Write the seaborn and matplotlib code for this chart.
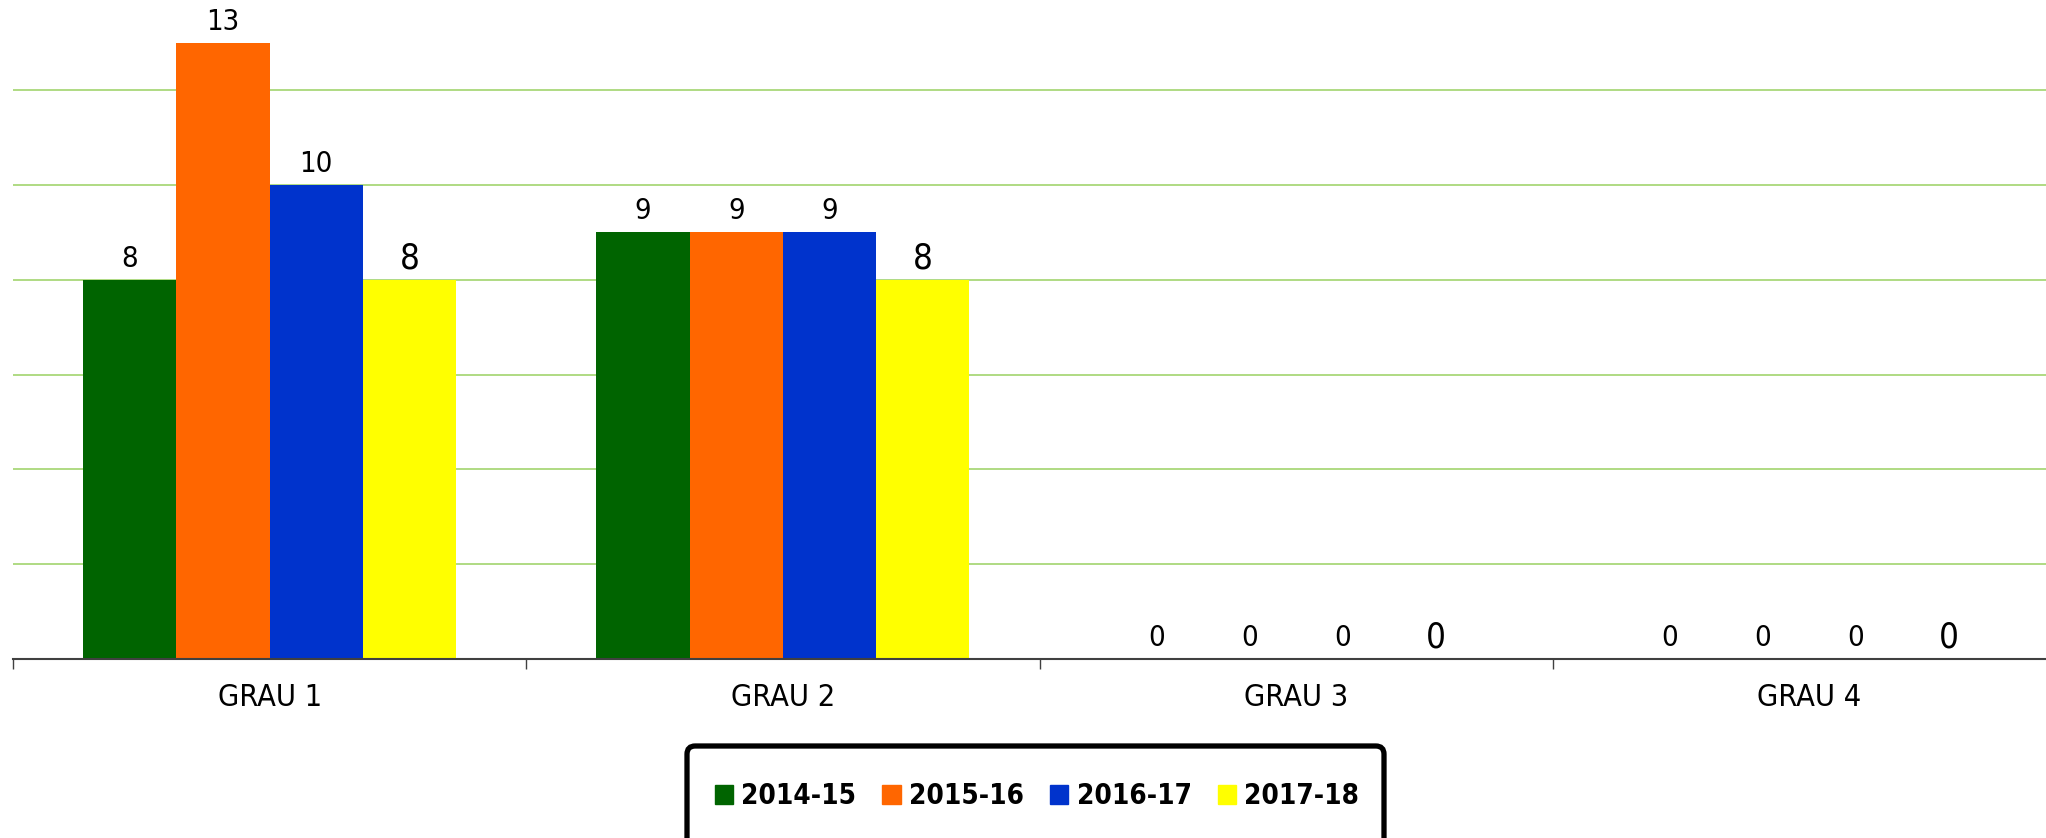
import matplotlib
matplotlib.use("Agg")
import matplotlib.pyplot as plt
from matplotlib import font_manager
from matplotlib.font_manager import FontProperties
from matplotlib.patches import FancyBboxPatch
import seaborn as sns
import pandas as pd

categories = ["GRAU 1", "GRAU 2", "GRAU 3", "GRAU 4"]
series = ["2014-15", "2015-16", "2016-17", "2017-18"]
v_2014_15 = [8, 9, 0, 0]
v_2015_16 = [13, 9, 0, 0]
v_2016_17 = [10, 9, 0, 0]
v_2017_18 = [8, 8, 0, 0]
colors = ["#006400", "#FF6600", "#0033CC", "#FFFF00"]

sns.set_theme(style="white")
plt.rcParams["font.family"] = ["DejaVu Sans"]
plt.rcParams["text.color"] = "black"


def find_font(bold):
    cands = []
    for f in font_manager.fontManager.ttflist:
        n = f.name.lower()
        fn = f.fname.lower()
        narrow = ("condensed" in n or "narrow" in n or "condensed" in fn
                  or "narrow" in fn or f.stretch in ("condensed", "semi-condensed",
                                                     "extra-condensed", "ultra-condensed", 600, 500))
        if not narrow:
            continue
        if "italic" in fn or "oblique" in fn or f.style != "normal":
            continue
        w = f.weight if isinstance(f.weight, int) else (700 if "bold" in str(f.weight) else 400)
        isbold = w >= 600 or "bold" in fn
        if bold == isbold:
            cands.append(f.fname)
    return sorted(cands)[0] if cands else None


reg = find_font(False)
bld = find_font(True)
fp_reg = FontProperties(fname=reg) if reg else FontProperties(family="DejaVu Sans", stretch="condensed")
fp_bld = FontProperties(fname=bld) if bld else FontProperties(family="DejaVu Sans", weight="bold", stretch="condensed")

rows = []
for s, vals in zip(series, [v_2014_15, v_2015_16, v_2016_17, v_2017_18]):
    for c, v in zip(categories, vals):
        rows.append({"cat": c, "series": s, "value": v})
df = pd.DataFrame(rows)

W, H = 2046, 838
fig = plt.figure(figsize=(W / 100, H / 100), dpi=100)
ax = fig.add_axes([13 / W, 179 / H, 2053 / W, 659 / H])
sns.barplot(data=df, x="cat", y="value", hue="series", hue_order=series,
            order=categories, palette=colors, width=0.727, saturation=1,
            edgecolor="none", linewidth=0, ax=ax, legend=False, zorder=3)

ax.set_ylim(0, 13.9)
ax.set_xlim(-0.5, 3.5)
ax.set_yticks([2, 4, 6, 8, 10, 12])
ax.yaxis.grid(True, color="#A9D879", linewidth=1.3, zorder=0)
ax.xaxis.grid(False)
ax.tick_params(axis="y", left=False, labelleft=False)
for sp in ["left", "right", "top"]:
    ax.spines[sp].set_visible(False)
ax.spines["bottom"].set_color("#404040")
ax.spines["bottom"].set_linewidth(1.5)
ax.spines["bottom"].set_zorder(4)

ax.set_xticks([-0.5, 0.5, 1.5, 2.5, 3.5])
ax.set_xticklabels([])
ax.tick_params(axis="x", which="major", length=7, width=1, color="#404040",
               direction="out", bottom=True)
ax.set_xticks(range(len(categories)), minor=True)
ax.set_xticklabels(categories, minor=True)
for t in ax.get_xticklabels(minor=True):
    t.set_fontproperties(fp_reg)
    t.set_fontsize(22)
    t.set_color("black")
ax.tick_params(axis="x", which="minor", length=0, pad=17)
ax.set_xlabel("")
ax.set_ylabel("")

for i, cont in enumerate(ax.containers):
    if i == 3:
        txts = ax.bar_label(cont, padding=3, color="black")
        size = 25
    else:
        txts = ax.bar_label(cont, padding=5, color="black")
        size = 21
    for t in txts:
        t.set_fontproperties(fp_reg)
        t.set_fontsize(size)

# legend frame (thick black rounded box, running off the bottom edge)
frame = FancyBboxPatch((687 / W, -12 / H), 697 / W, 104 / H,
                       boxstyle="round,pad=0,rounding_size=0.004",
                       transform=fig.transFigure, facecolor="white",
                       edgecolor="black", linewidth=3.8, zorder=1,
                       mutation_aspect=W / H)
fig.add_artist(frame)

handles = [plt.Rectangle((0, 0), 1, 1, color=c) for c in colors]
prop = fp_bld.copy()
prop.set_size(20)
leg = fig.legend(handles, series, loc="center", ncol=4,
                 bbox_to_anchor=(1037 / W, 42 / H),
                 bbox_transform=fig.transFigure,
                 prop=prop, labelcolor="black",
                 handlelength=0.65, handleheight=0.65, handletextpad=0.3,
                 columnspacing=0.95, borderpad=0, borderaxespad=0,
                 frameon=False)
leg.set_zorder(2)

fig.savefig("out.png", dpi=100)
